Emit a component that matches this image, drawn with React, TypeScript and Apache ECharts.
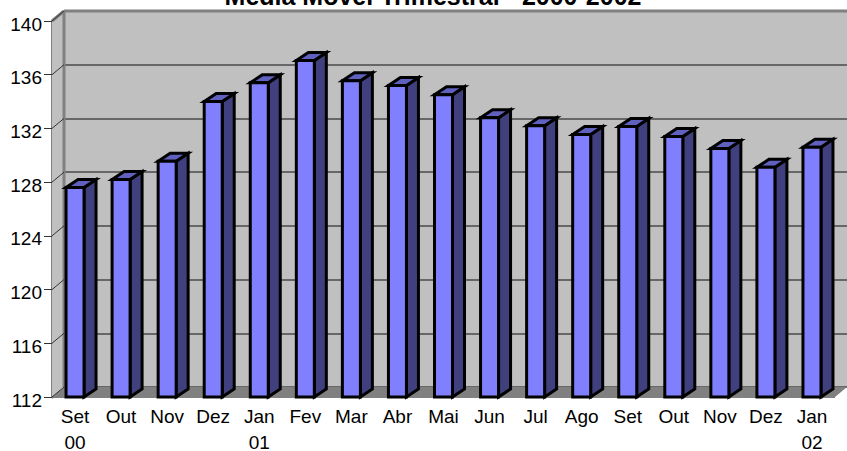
import React, { useEffect, useRef } from "react";
import * as echarts from "echarts";

const categories = ["Set\n00", "Out", "Nov", "Dez", "Jan\n01", "Fev", "Mar", "Abr", "Mai", "Jun", "Jul", "Ago", "Set", "Out", "Nov", "Dez", "Jan\n02"];
const values = [127.6, 128.2, 129.55, 134, 135.4, 137.05, 135.55, 135.2, 134.5, 132.8, 132.2, 131.55, 132.15, 131.4, 130.5, 129.1, 130.6];
const titleText = "Média Móvel Trimestral - 2000-2002";
const yMin = 112, yMax = 140, yStep = 4;
const DX = 12, DY = 10;

export default function App() {
  const ref = useRef<HTMLDivElement>(null);
  useEffect(() => {
    const chart = echarts.init(ref.current!, undefined, { renderer: "svg" });
    const font = "'Liberation Sans', Arial, sans-serif";
    chart.setOption({
      animation: false,
      backgroundColor: "#fff",
      title: { text: titleText, left: 428, top: -22, textAlign: "center", textStyle: { fontFamily: font, fontSize: 25, fontWeight: "bold", color: "#000" } },
      grid: [
        { left: 52, top: 21, width: 783, height: 376, containLabel: false, outerBoundsMode: "none" },
        { left: 64, top: 11, width: 783, height: 376, show: true, backgroundColor: "#c0c0c0", borderWidth: 0, outerBoundsMode: "none" },
      ],
      xAxis: [
        {
          type: "category", gridIndex: 0, data: categories, axisTick: { show: false }, axisLine: { show: false },
          axisLabel: {
            interval: 0, margin: 1, verticalAlign: "top",
            formatter: (v: string) => v.split("\n").map((t, i) => `{${i === 0 ? "a" : "b"}|${t}}`).join("\n"),
            rich: {
              a: { fontFamily: font, fontSize: 19, color: "#000", lineHeight: 36 },
              b: { fontFamily: font, fontSize: 19, color: "#000", lineHeight: 16 },
            },
          },
        },
        { type: "category", gridIndex: 1, data: categories, show: false },
      ],
      yAxis: [
        { type: "value", gridIndex: 0, min: yMin, max: yMax, interval: yStep, splitLine: { show: false }, axisLine: { show: true, lineStyle: { color: "#808080", width: 3 } }, axisTick: { show: true, length: 8, lineStyle: { color: "#333", width: 1 } }, axisLabel: { margin: 10, verticalAlign: "top", lineHeight: 6, fontFamily: font, fontSize: 19, color: "#000" } },
        { type: "value", gridIndex: 1, min: yMin, max: yMax, interval: yStep, axisLabel: { show: false }, axisTick: { show: false }, axisLine: { show: false }, splitLine: { show: true, lineStyle: { color: "#4a4a4a", width: 1.5 } } },
      ],
      series: [
        {
          type: "custom", xAxisIndex: 0, yAxisIndex: 0, z: 1, silent: true, clip: false,
          data: [0],
          renderItem: (_p: any, api: any) => {
            const top = api.coord([0, yMax]);
            const bot = api.coord([0, yMin]);
            const size = api.size([1, 0])[0];
            const x0 = top[0] - size / 2;
            const x1 = x0 + size * categories.length;
            const yT = top[1], yB = bot[1];
            return {
              type: "group",
              children: [
                { type: "polygon", shape: { points: [[x0, yT], [x0 + DX, yT - DY], [x0 + DX, yB - DY], [x0, yB]] }, style: { fill: "#c0c0c0", stroke: "none" } },
                { type: "polygon", shape: { points: [[x0, yB], [x0 + DX, yB - DY], [x1 + DX, yB - DY], [x1, yB]] }, style: { fill: "#808080", stroke: "none" } },
                { type: "line", shape: { x1: x0 + DX, y1: yT - DY, x2: x1 + DX, y2: yT - DY }, style: { stroke: "#808080", lineWidth: 3 } },
                { type: "line", shape: { x1: x0 + DX, y1: yT - DY, x2: x0 + DX, y2: yB - DY }, style: { stroke: "#808080", lineWidth: 3 } },
                { type: "line", shape: { x1: x0, y1: yT, x2: x0 + DX, y2: yT - DY }, style: { stroke: "#808080", lineWidth: 3 } },
                { type: "line", shape: { x1: x0, y1: yB, x2: x1, y2: yB }, style: { stroke: "#808080", lineWidth: 2 } },
                ...Array.from({ length: (yMax - yMin) / yStep + 1 }, (_, i) => {
                  const y = api.coord([0, yMin + i * yStep])[1];
                  return { type: "line", shape: { x1: x0, y1: y, x2: x0 + DX, y2: y - DY }, style: { stroke: "#333", lineWidth: 1 } };
                }),
              ],
            };
          },
        },
        {
          type: "custom", xAxisIndex: 0, yAxisIndex: 0, z: 3, silent: true, clip: false,
          data: values.map((v, i) => [i, v]),
          encode: { x: 0, y: 1 },
          renderItem: (_p: any, api: any) => {
            const [cx, yT] = api.coord([api.value(0), api.value(1)]);
            const yB = api.coord([api.value(0), yMin])[1];
            const w = 18, l = cx - w / 2, r = cx + w / 2;
            const s = { stroke: "#000", lineWidth: 3, lineJoin: "miter" };
            return {
              type: "group",
              children: [
                { type: "polygon", shape: { points: [[r, yT], [r + DX, yT - 8], [r + DX, yB - 8], [r, yB]] }, style: { ...s, fill: "#40407f" } },
                { type: "polygon", shape: { points: [[l, yT], [l + DX, yT - 8], [r + DX, yT - 8], [r, yT]] }, style: { ...s, fill: "#6060bf" } },
                { type: "rect", shape: { x: l, y: yT, width: w, height: yB - yT }, style: { ...s, fill: "#8080ff" } },
              ],
            };
          },
        },
      ],
    });
    return () => chart.dispose();
  }, []);
  return <div ref={ref} style={{ position: "fixed", left: 0, top: 0, width: 847, height: 451 }} />;
}
